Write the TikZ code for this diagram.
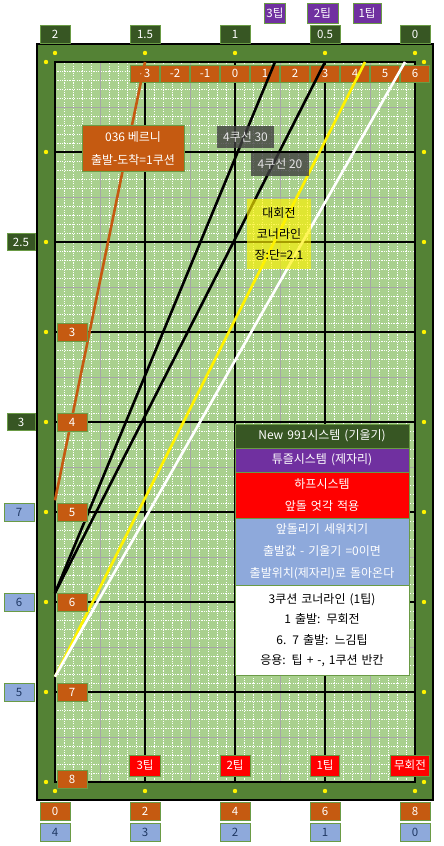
\documentclass[tikz,border=0pt]{standalone}
\usepackage{fontspec}
\setmainfont{Noto Sans CJK KR}
\usetikzlibrary{positioning}
\definecolor{rail}{HTML}{548235}
\definecolor{felt}{HTML}{A9D08E}
\definecolor{dkgreen}{HTML}{375623}
\definecolor{burnt}{HTML}{C55A11}
\definecolor{tippurple}{HTML}{7030A0}
\definecolor{steel}{HTML}{8EA9DB}
\definecolor{edge}{HTML}{6A9B45}
\definecolor{navy}{HTML}{1F3864}

\begin{document}
\begin{tikzpicture}[x=90pt,y=90pt,
  lab/.style={draw=edge,line width=0.8pt,inner sep=0pt,minimum width=30pt,minimum height=18pt,font=\fontsize{11.5}{13}\selectfont},
  row/.style={draw=edge,line width=0.8pt,outer sep=0pt,inner xsep=2pt,inner ysep=0pt,text width=170pt,align=center,font=\fontsize{12}{22}\selectfont},
  cue/.style={line width=2.6pt}]
  \useasboundingbox (-0.6111,-0.7111) rectangle (4.3222,8.6889);

  \draw[fill=rail,line width=1.5pt] (-0.2,-0.2) rectangle (4.2,8.2);
  \fill[felt] (0,0) rectangle (4,8);
  \foreach \i in {1,...,39} {
    \draw[white,line width=0.9pt,dash pattern=on 1.2pt off 1.2pt] (\i/10,0) -- (\i/10,8);
  }
  \foreach \j in {1,...,79} {
    \draw[white,line width=0.9pt,dash pattern=on 1.2pt off 1.2pt] (0,\j/10) -- (4,\j/10);
  }
  \foreach \i in {0.5,1.5,2.5,3.5} {
    \draw[gray!70,line width=0.9pt] (\i,0) -- (\i,8);
  }
  \foreach \j in {0.5,1.5,...,7.5} {
    \draw[gray!70,line width=0.9pt] (0,\j) -- (4,\j);
  }
  \foreach \i in {1,2,3} {
    \draw[line width=1.2pt] (\i,0) -- (\i,8);
  }
  \foreach \j in {1,...,7} {
    \draw[line width=1.4pt] (0,\j) -- (4,\j);
  }
  \draw[line width=2.5pt] (0,0) rectangle (4,8);

  \foreach \i in {0,...,4} {
    \fill[yellow] (\i,8.1) circle (2.2pt);
    \fill[yellow] (\i,-0.1) circle (2.2pt);
  }
  \foreach \j in {0,...,8} {
    \fill[yellow] (-0.1,\j) circle (2.2pt);
    \fill[yellow] (4.1,\j) circle (2.2pt);
  }

  \foreach \n [count=\k] in {-3,...,6} {
    \node[lab,fill=burnt,text=white,minimum width=29pt,minimum height=17pt] (top\k) at ({2+\n/3},7.872) {\n};
  }

  \coordinate (berniA) at (1,8);
  \coordinate (berniB) at (0,3.13);
  \coordinate (k30A) at ({2+4/9},8);
  \coordinate (k20A) at (3,8);
  \coordinate (kB) at (0,2.1);
  \coordinate (cornerA) at ({3+4/9},8);
  \coordinate (plainA) at ({3+8/9},8);
  \coordinate (cornerB) at (0,1.17);
  \draw[cue,burnt] (berniA) -- (berniB);
  \draw[cue] (k30A) -- (kB);
  \draw[cue] (k20A) -- (kB);
  \draw[cue,yellow] (cornerA) -- (cornerB);
  \draw[cue,white] (plainA) -- (cornerB);

  \foreach \v [count=\k from 0] in {2,1.5,1,0.5,0} {
    \node[lab,fill=dkgreen,text=white] (rate\k) at (\k,8.311) {\v};
  }
  \node[lab,fill=tippurple,text=white,minimum width=21pt,minimum height=20pt] (tip3) at (2.444,8.544) {3팁};
  \node[lab,fill=tippurple,text=white,minimum width=31pt,minimum height=20pt] (tip2) at (2.972,8.544) {2팁};
  \node[lab,fill=tippurple,text=white,minimum width=28pt,minimum height=20pt] (tip1) at (3.467,8.544) {1팁};

  \node[lab,fill=dkgreen,text=white,minimum width=28pt,minimum height=17pt] (side25) at (-0.378,6) {2.5};
  \node[lab,fill=dkgreen,text=white,minimum width=28pt,minimum height=17pt] (side3) at (-0.378,4) {3};
  \foreach \v [count=\k] in {7,6,5} {
    \node[lab,fill=steel,text=navy] (blue\v) at (-0.4,4-\k) {\v};
  }
  \foreach \v [count=\k] in {3,...,7} {
    \node[lab,fill=burnt,text=white] (in\v) at (0.189,6-\k) {\v};
  }
  \node[lab,fill=burnt,text=white] (in8) at (0.189,0.03) {8};

  \node[lab,fill=red,text=white,minimum width=31pt,minimum height=21pt] (bot3) at (1,0.183) {3팁};
  \node[lab,fill=red,text=white,minimum width=30pt,minimum height=21pt] (bot2) at (2,0.183) {2팁};
  \node[lab,fill=red,text=white,minimum width=29pt,minimum height=21pt] (bot1) at (3,0.183) {1팁};
  \node[lab,fill=red,text=white,minimum width=39pt,minimum height=21pt] (bot0) at (3.944,0.183) {무회전};
  \foreach \v [count=\k from 0] in {0,2,4,6,8} {
    \node[lab,fill=burnt,text=white] (run\v) at (\k,-0.322) {\v};
  }
  \foreach \v [count=\k from 0] in {4,3,2,1,0} {
    \node[lab,fill=steel,text=navy] (low\v) at (\k,-0.556) {\v};
  }

  \node[draw=edge,line width=0.8pt,fill=burnt,text=white,inner sep=0pt,minimum width=102pt,minimum height=46pt,align=center,font=\fontsize{12}{23}\selectfont] (berni) at (0.867,7.044) {036 베르니\\출발-도착=1쿠션};
  \node[fill=black!75,fill opacity=0.8,text opacity=1,text=white!90!black,inner sep=0pt,minimum width=57pt,minimum height=22pt,font=\fontsize{12}{13}\selectfont] (k30) at (2.117,7.167) {4쿠선 30};
  \node[fill=black!75,fill opacity=0.8,text opacity=1,text=white!90!black,inner sep=0pt,minimum width=58pt,minimum height=23pt,font=\fontsize{12}{13}\selectfont] (k20) at (2.5,6.861) {4쿠선 20};
  \node[fill=yellow,fill opacity=0.65,text opacity=1,text=black,inner sep=0pt,minimum width=64pt,minimum height=70pt,align=center,font=\fontsize{12}{21}\selectfont] (corner) at (2.489,6.089) {대회전\\코너라인\\장:단=2.1};

  \node[row,fill=dkgreen,text=white,minimum height=24pt] (sys1) at (2.967,3.844) {New 991시스템 (기울기)};
  \node[row,fill=tippurple,text=white,minimum height=24pt,below=0pt of sys1] (sys2) {튜즐시스템 (제자리)};
  \node[row,fill=red,text=white,minimum height=46pt,below=0pt of sys2] (sys3) {하프시스템\\앞돌 엇각 적용};
  \node[row,fill=steel,text=white,minimum height=67pt,below=0pt of sys3] (sys4) {앞돌리기 세워치기\\출발값 - 기울기 =0이면\\출발위치(제자리)로 돌아온다};
  \node[row,fill=white,text=black,minimum height=90pt,font=\fontsize{12}{20.5}\selectfont,below=0pt of sys4] (sys5) {3쿠션 코너라인 (1팁)\\1 출발: 무회전\\6. 7 출발: 느김팁\\응용: 팁 + -, 1쿠션 반칸};
\end{tikzpicture}
\end{document}
